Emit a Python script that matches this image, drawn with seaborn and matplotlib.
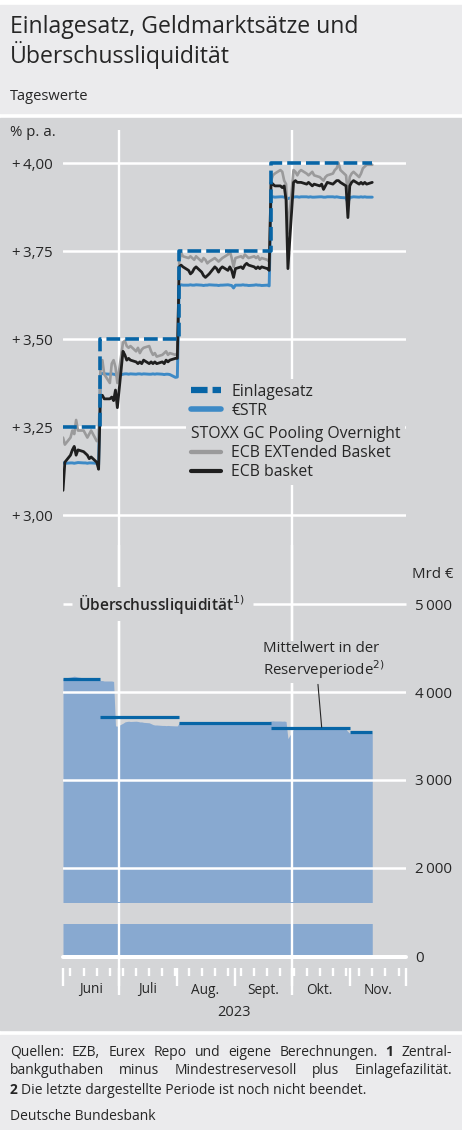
import matplotlib
matplotlib.use('Agg')
import matplotlib.pyplot as plt
import matplotlib.dates as mdates
import matplotlib.transforms as mtransforms
from matplotlib.patches import Rectangle
from matplotlib.lines import Line2D
import pandas as pd
import seaborn as sns

# Daten (Tageswerte, Geschaeftstage)
tage = pd.bdate_range('2023-06-01', '2023-11-13')

estr = [
    # Juni
    3.148, 3.147, 3.148, 3.148, 3.147, 3.148, 3.149, 3.148, 3.148, 3.147, 3.148,
    3.148, 3.147, 3.143, 3.401, 3.402, 3.401, 3.400, 3.401, 3.400, 3.399, 3.395,
    # Juli
    3.400, 3.401, 3.401, 3.400, 3.401, 3.400, 3.401, 3.401, 3.400, 3.401, 3.400,
    3.400, 3.401, 3.400, 3.401, 3.400, 3.399, 3.400, 3.400, 3.399, 3.391,
    # Aug.
    3.392, 3.653, 3.654, 3.653, 3.653, 3.654, 3.653, 3.653, 3.654, 3.653, 3.652,
    3.653, 3.653, 3.654, 3.653, 3.653, 3.652, 3.653, 3.653, 3.654, 3.653, 3.652, 3.645,
    # Sept.
    3.653, 3.653, 3.654, 3.653, 3.653, 3.652, 3.653, 3.654, 3.653, 3.653, 3.652,
    3.653, 3.651, 3.903, 3.904, 3.903, 3.904, 3.904, 3.903, 3.903, 3.899,
    # Okt.
    3.903, 3.904, 3.904, 3.903, 3.904, 3.904, 3.903, 3.904, 3.903, 3.903, 3.904,
    3.904, 3.903, 3.903, 3.904, 3.904, 3.903, 3.904, 3.903, 3.902, 3.901, 3.888,
    # Nov.
    3.902, 3.903, 3.904, 3.903, 3.904, 3.903, 3.904, 3.903, 3.903,
]

gc_extended = [
    3.22, 3.20, 3.22, 3.24, 3.23, 3.27, 3.24, 3.24, 3.23, 3.22, 3.23,
    3.24, 3.21, 3.21, 3.42, 3.44, 3.40, 3.375, 3.43, 3.44, 3.42, 3.375,
    3.49, 3.495, 3.48, 3.475, 3.48, 3.465, 3.475, 3.46, 3.47, 3.475, 3.48,
    3.465, 3.455, 3.46, 3.45, 3.455, 3.46, 3.465, 3.455, 3.46, 3.455,
    3.46, 3.72, 3.745, 3.735, 3.73, 3.735, 3.73, 3.725, 3.735, 3.72, 3.73,
    3.725, 3.715, 3.72, 3.73, 3.725, 3.72, 3.725, 3.73, 3.74, 3.75, 3.73, 3.705,
    3.73, 3.735, 3.73, 3.74, 3.735, 3.73, 3.735, 3.73, 3.735, 3.725, 3.73,
    3.725, 3.72, 3.95, 3.965, 3.97, 3.98, 3.975, 3.95, 3.94, 3.80,
    3.98, 3.975, 3.965, 3.975, 3.98, 3.97, 3.965, 3.97, 3.975, 3.965, 3.96,
    3.955, 3.95, 3.96, 3.965, 3.97, 3.98, 3.985, 4.00, 3.98, 3.965, 3.91,
    3.96, 3.97, 3.975, 3.96, 3.97, 3.985, 3.99, 3.995, 3.995,
]

gc_ecb = [
    3.07, 3.15, 3.17, 3.185, 3.195, 3.17, 3.185, 3.18, 3.175, 3.17, 3.16,
    3.165, 3.15, 3.13, 3.34, 3.34, 3.33, 3.33, 3.335, 3.325, 3.355, 3.305,
    3.465, 3.455, 3.44, 3.445, 3.44, 3.435, 3.43, 3.435, 3.43, 3.44, 3.43,
    3.435, 3.43, 3.435, 3.43, 3.435, 3.43, 3.44, 3.435, 3.44, 3.445,
    3.445, 3.705, 3.71, 3.705, 3.695, 3.685, 3.69, 3.70, 3.705, 3.69, 3.68,
    3.675, 3.68, 3.685, 3.705, 3.70, 3.69, 3.70, 3.705, 3.695, 3.705, 3.695, 3.675,
    3.70, 3.705, 3.70, 3.71, 3.715, 3.71, 3.705, 3.70, 3.705, 3.70, 3.705,
    3.70, 3.695, 3.945, 3.94, 3.935, 3.935, 3.93, 3.935, 3.895, 3.70,
    3.945, 3.95, 3.945, 3.945, 3.945, 3.94, 3.945, 3.94, 3.935, 3.94, 3.935,
    3.94, 3.925, 3.935, 3.945, 3.94, 3.945, 3.95, 3.95, 3.945, 3.935, 3.845,
    3.935, 3.945, 3.95, 3.94, 3.945, 3.94, 3.945, 3.94, 3.945,
]

ueberschuss = [
    4150, 4160, 4170, 4175, 4180, 4175, 4170, 4160, 4155, 4150, 4150,
    4150, 4140, 4140, 4130, 4130, 4125, 4125, 4125, 4120, 3615, 3612,
    3645, 3660, 3665, 3668, 3665, 3668, 3665, 3660, 3660, 3655, 3650,
    3640, 3630, 3625, 3625, 3620, 3620, 3618, 3620, 3618, 3615,
    3615, 3650, 3652, 3650, 3648, 3650, 3652, 3650, 3648, 3650, 3650,
    3652, 3650, 3648, 3650, 3650, 3652, 3650, 3648, 3650, 3650, 3652, 3648,
    3650, 3650, 3652, 3650, 3648, 3650, 3652, 3650, 3650, 3648, 3650,
    3655, 3665, 3670, 3672, 3670, 3670, 3668, 3670, 3665, 3470,
    3580, 3582, 3585, 3582, 3580, 3582, 3585, 3582, 3580, 3582, 3580,
    3582, 3585, 3582, 3580, 3582, 3580, 3582, 3580, 3578, 3575, 3550,
    3532, 3530, 3532, 3530, 3528, 3530, 3532, 3530, 3530,
]

# Einlagesatz (Stufen)
zins_daten = pd.to_datetime(['2023-06-01', '2023-06-21', '2023-08-02', '2023-09-20', '2023-11-13'])
einlagesatz = [3.25, 3.50, 3.75, 4.00, 4.00]

# Mittelwert in der Reserveperiode
perioden_start = pd.to_datetime(['2023-06-01', '2023-06-21', '2023-08-02', '2023-09-20', '2023-11-01'])
perioden_ende = pd.to_datetime(['2023-06-21', '2023-08-02', '2023-09-20', '2023-11-01', '2023-11-13'])
perioden_mittel = [4148, 3712, 3653, 3587, 3551]

monate = pd.date_range('2023-06-01', '2023-12-01', freq='MS')
monat_labels = ['Juni', 'Juli', 'Aug.', 'Sept.', 'Okt.', 'Nov.']
quartale = pd.to_datetime(['2023-07-01', '2023-10-01'])

zins_ticks = [3.00, 3.25, 3.50, 3.75, 4.00]
zins_labels = ['+\u20093,00', '+\u20093,25', '+\u20093,50', '+\u20093,75', '+\u20094,00']
liq_ticks = [2000, 3000, 4000, 5000]
liq_labels = ['2\u2009000', '3\u2009000', '4\u2009000', '5\u2009000']

df = pd.DataFrame({'Datum': tage, 'ESTR': estr, 'EXT': gc_extended,
                   'ECB': gc_ecb, 'Liq': ueberschuss})

# Farben
GRAU = '#d4d5d7'
HELL = '#ebebed'
TEXT = '#262626'
BLAU_D = '#0765a6'
BLAU_H = '#3d8ac6'
GRAU_L = '#9a9a9b'
SCHWARZ = '#1f1f1f'
FLAECHE = '#88a9d0'

sns.set_style('white', rc={'axes.facecolor': 'none'})
plt.rcParams['font.family'] = ['Open Sans', 'DejaVu Sans']
plt.rcParams['text.color'] = TEXT

W, H = 462, 1130
fig = plt.figure(figsize=(W / 100, H / 100), dpi=100)
fig.patch.set_facecolor('white')


def fx(px):
    return px / W


def fy(py):
    return 1 - py / H


# Hintergruende
fig.add_artist(Rectangle((0, fy(113)), 1, 108 / H, transform=fig.transFigure, color=HELL, zorder=-10))
fig.add_artist(Rectangle((0, fy(1030)), 1, 912 / H, transform=fig.transFigure, color=GRAU, zorder=-10))
fig.add_artist(Rectangle((0, 0), 1, 95 / H, transform=fig.transFigure, color=HELL, zorder=-10))

# Titel
fig.text(fx(10), fy(33), 'Einlagesatz, Geldmarktsätze und', fontsize=16.6, va='baseline')
fig.text(fx(10), fy(63), 'Überschussliquidität', fontsize=16.6, va='baseline')
fig.text(fx(10), fy(97), 'Tageswerte', fontsize=10.5, va='center')


def neue_achse(top, bottom):
    a = fig.add_axes([fx(63), fy(bottom), fx(406) - fx(63), (bottom - top) / H])
    a.set_facecolor('none')
    for s in a.spines.values():
        s.set_visible(False)
    a.set_xlim(monate[0], monate[-1])
    return a


ax_bg = neue_achse(130, 995)
ax1 = neue_achse(130, 545)
ax2 = neue_achse(545, 902)
ax3 = neue_achse(924, 957)

# vertikale Gitterlinien
for q in quartale:
    ax_bg.axvline(q, color='white', lw=1.7)
ax_bg.set_xticks([])
ax_bg.set_yticks([])

# --- Zinsen ---
ax1.set_ylim(2.9148, 4.0938)
ax1.set_yticks(zins_ticks)
ax1.set_yticklabels(zins_labels)
ax1.set_xticks([])
for t in zins_ticks:
    ax1.axhline(t, color='white', lw=1.8, zorder=0.5)
ax1.tick_params(axis='y', length=0, pad=7.2, labelsize=10.8, labelcolor=TEXT)

sns.lineplot(data=df, x='Datum', y='ESTR', ax=ax1, color=BLAU_H, lw=2.1)
sns.lineplot(data=df, x='Datum', y='EXT', ax=ax1, color=GRAU_L, lw=1.9)
sns.lineplot(data=df, x='Datum', y='ECB', ax=ax1, color=SCHWARZ, lw=2.0)
ax1.plot(zins_daten, einlagesatz, drawstyle='steps-post', color=BLAU_D, lw=2.6,
         ls=(0, (3.8, 1.4)))
ax1.set_xlabel('')
ax1.set_ylabel('')
ax1.set_xlim(monate[0], monate[-1])

leg_kw = dict(loc='upper left', frameon=True, facecolor=GRAU, edgecolor='none', framealpha=1,
              fancybox=False, fontsize=11.3, handlelength=1.9, handletextpad=0.65,
              labelspacing=0.2, borderpad=0.3, borderaxespad=0)
h1 = [Line2D([], [], color=BLAU_D, lw=4.5, ls=(0, (2.65, 0.8))),
      Line2D([], [], color=BLAU_H, lw=4.0)]
leg1 = ax1.legend(h1, ['Einlagesatz', '€STR'], bbox_to_anchor=(0.36, 0.4), **leg_kw)
ax1.add_artist(leg1)
h2 = [Line2D([], [], color=GRAU_L, lw=3.1), Line2D([], [], color=SCHWARZ, lw=3.0)]
leg2 = ax1.legend(h2, ['ECB EXTended Basket', 'ECB basket'], title='STOXX GC Pooling Overnight',
                  title_fontsize=11.3, alignment='left', bbox_to_anchor=(0.36, 0.298), **leg_kw)

fig.text(fx(10), fy(133), '% p. a.', fontsize=10.8, va='center')

# --- Ueberschussliquiditaet ---
for a in (ax2, ax3):
    a.fill_between(df['Datum'], 0, df['Liq'], color=FLAECHE, lw=0, zorder=1)
    for q in quartale:
        a.axvline(q, color='white', lw=1.7, zorder=2.5)
    a.yaxis.tick_right()
    a.tick_params(axis='y', length=0, pad=6.5, labelsize=10.8, labelcolor=TEXT)

ax2.hlines(perioden_mittel, perioden_start, perioden_ende, color=BLAU_D, lw=2.3, zorder=3)
ax2.set_ylim(1613.6, 5670.5)
ax2.set_yticks(liq_ticks)
ax2.set_yticklabels(liq_labels)
ax2.set_xticks([])
for t in liq_ticks[:-1]:
    ax2.axhline(t, color='white', lw=1.8, zorder=2.6)

blend = mtransforms.blended_transform_factory(ax2.transAxes, ax2.transData)
titel_liq = ax2.text(0.044, liq_ticks[-1], 'Überschussliquidität$^{1)}$', transform=blend,
                     va='center', ha='left', fontsize=11.2, fontweight='semibold', zorder=5,
                     bbox=dict(boxstyle='square,pad=0.35', fc=GRAU, ec='none'))

ax2.annotate('Mittelwert in der\nReserveperiode$^{2)}$',
             xy=(mdates.date2num(pd.Timestamp('2023-10-17')), 3600),
             xytext=(0.583, 0.73), textcoords='axes fraction', ha='left', va='top',
             fontsize=10.8, linespacing=1.1, zorder=5,
             bbox=dict(boxstyle='square,pad=0.15', fc=GRAU, ec='none'),
             arrowprops=dict(arrowstyle='-', lw=0.8, color=TEXT, relpos=(0.45, 0),
                             shrinkA=1, shrinkB=0))

# oberste Gitterlinie (5 000) mit Luecke fuer die Beschriftung, auf Figurenebene gezeichnet
renderer = fig.canvas.get_renderer()
ext = titel_liq.get_window_extent(renderer)
inv = ax2.transAxes.inverted()
links = inv.transform((ext.x0 - 6, 0))[0]
rechts = inv.transform((ext.x1 + 8, 0))[0]
for x0, x1 in ((0, links), (rechts, 1)):
    fig.add_artist(Line2D([x0, x1], [liq_ticks[-1], liq_ticks[-1]], transform=blend,
                          color='white', lw=1.8, solid_capstyle='butt', zorder=10))

fig.text(fx(453), fy(574), 'Mrd €', fontsize=10.8, va='center', ha='right')

ax3.set_ylim(0, 375)
ax3.set_yticks([0])
ax3.set_yticklabels(['0'])
ax3.axhline(0, color='white', lw=2.9, clip_on=False, zorder=3)
ax3.xaxis.set_major_locator(mdates.MonthLocator())
ax3.xaxis.set_minor_locator(mdates.WeekdayLocator(byweekday=mdates.MO))
ax3.spines['bottom'].set_position(('outward', 8))
ax3.tick_params(axis='x', which='major', bottom=True, length=13, width=1.7, color='white',
                labelbottom=False)
ax3.tick_params(axis='x', which='minor', bottom=True, length=5.8, width=1.7, color='white')
for m, lab in zip(monate[:-1], monat_labels):
    ax3.text(m + pd.Timedelta(days=15), -1.0, lab, transform=ax3.get_xaxis_transform(),
             ha='center', va='center', fontsize=9.8)
fig.text(fx(234.5), fy(1012), '2023', fontsize=10.5, ha='center', va='center')

# --- Fussnote ---
FN = 10


def zeile(teile, y, blocksatz):
    texte = [fig.text(0, fy(y), t, fontsize=FN, fontweight='bold' if b else 'normal', va='center')
             for t, b in teile]
    breiten = [t.get_window_extent(renderer).width for t in texte]
    if blocksatz:
        luecke = (442 - sum(breiten)) / (len(texte) - 1)
    else:
        luecke = FN * 0.26 * 100 / 72
    x = 10
    for t, b in zip(texte, breiten):
        t.set_x(fx(x))
        x += b + luecke


zeile([('Quellen:', 0), ('EZB,', 0), ('Eurex', 0), ('Repo', 0), ('und', 0), ('eigene', 0),
       ('Berechnungen.', 0), ('1', 1), ('Zentral-', 0)], 1052, True)
zeile([('bankguthaben', 0), ('minus', 0), ('Mindestreservesoll', 0), ('plus', 0),
       ('Einlagefazilität.', 0)], 1071, True)
zeile([('2', 1), ('Die letzte dargestellte Periode ist noch nicht beendet.', 0)], 1090, False)
fig.text(fx(10), fy(1117), 'Deutsche Bundesbank', fontsize=FN, va='center')

fig.savefig('out.png', dpi=100, facecolor='white')
